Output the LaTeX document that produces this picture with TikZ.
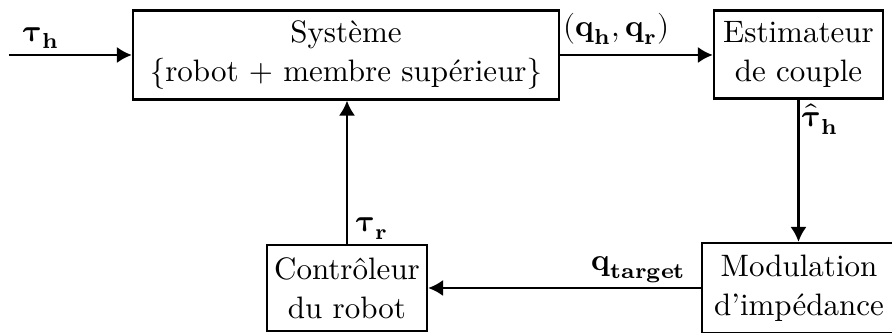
\documentclass[tikz,border=0pt]{standalone}
\usepackage{amsmath}
\usepackage{unicode-math}
\setmathfont{Latin Modern Math}
\usetikzlibrary{arrows.meta}
\tikzset{
  block/.style={draw, line width=0.75pt, rectangle, align=center, inner sep=0pt,
    font=\fontsize{10}{12.6}\selectfont},
  link/.style={line width=0.75pt, -{Latex[length=4.8pt,width=5.2pt]}},
  sig/.style={inner sep=0pt, font=\fontsize{10}{12}\selectfont}
}
\begin{document}
\begin{tikzpicture}[x=0.3226pt, y=-0.3226pt]
  \useasboundingbox (0,0) rectangle (892,333);
  \clip (0,0) rectangle (892,333);

  % blocks
  \node[block, minimum width=426*0.3226pt, minimum height=89*0.3226pt] (sys) at (346,55)
    {Système\\\{robot + membre supérieur\}};
  \node[block, minimum width=169*0.3226pt, minimum height=88*0.3226pt] (est) at (798.5,54.5)
    {Estimateur\\de couple};
  \node[block, minimum width=194*0.3226pt, minimum height=90*0.3226pt] (mod) at (799,288)
    {Modulation\\d'impédance};
  \node[block, minimum width=160*0.3226pt, minimum height=86*0.3226pt] (ctl) at (347,288)
    {Contrôleur\\du robot};

  % input
  \coordinate (in) at (9,55);
  \draw[link] (in) -- (sys.west);
  \node[sig] (tauh) at (42,38) {$\symbfup{\tau}_{\symbfup{h}}$};

  % connections
  \draw[link] (sys.east) -- (sys.east -| est.west);
  \node[sig, anchor=south west] (qhr) at (563,45) {$(\symbfup{q}_{\symbfup{h}},\symbfup{q}_{\symbfup{r}})$};

  \draw[link] (est.south) -- (est.south |- mod.north);
  \node[sig, anchor=north west] (tauhat) at (802,103) {$\hat{\symbfup{\tau}}_{\symbfup{h}}$};

  \draw[link] (mod.west) -- (ctl.east);
  \node[sig, anchor=south east] (qt) at (687,283) {$\symbfup{q}_{\symbfup{target}}$};

  \draw[link] (ctl.north) -- (ctl.north |- sys.south);
  \node[sig, anchor=south west] (taur) at (356,240) {$\symbfup{\tau}_{\symbfup{r}}$};
\end{tikzpicture}
\end{document}
